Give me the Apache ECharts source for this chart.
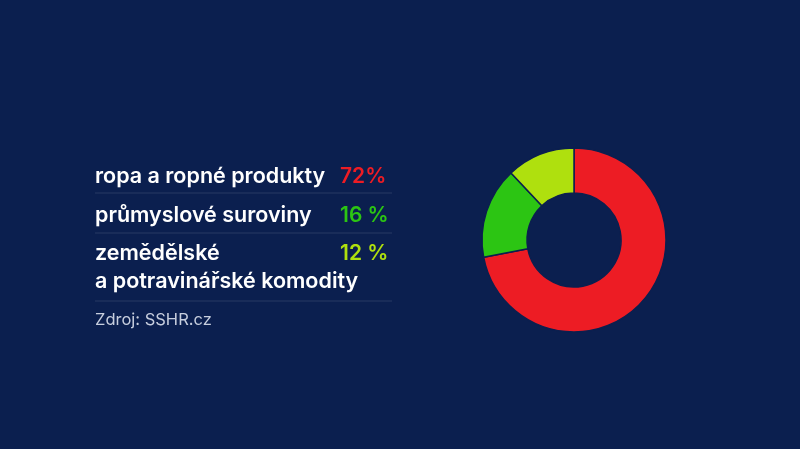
<!DOCTYPE html>
<html>
<head>
<meta charset="utf-8">
<script src="https://cdn.jsdelivr.net/npm/echarts@6/dist/echarts.min.js"></script>
<style>
  html, body { margin: 0; padding: 0; background: #0b1f4f; }
  #chart { width: 800px; height: 449px; }
</style>
</head>
<body>
<div id="chart"></div>
<script>
// data
const categories = ['ropa a ropné produkty', 'průmyslové suroviny', 'zemědělské\na potravinářské komodity']
const values = [72, 16, 12]
const valueLabels = ['72%', '16 %', '12 %']
const colors = ['#ed1c24', '#2cc513', '#afe00e']
const source = 'Zdroj: SSHR.cz'

const chart = echarts.init(document.getElementById('chart'))

// text rows on the left
const rowY = [175, 214, 252]
const lineY = [193, 233, 301]
const graphics = []
categories.forEach((c, i) => {
  graphics.push({
    type: 'text', left: 95, top: rowY[i] - 12,
    style: { text: c, fill: '#ffffff', font: '600 21.5px Inter', lineHeight: 28 }
  })
  graphics.push({
    type: 'text', left: 340, top: rowY[i] - 12,
    style: { text: valueLabels[i], fill: colors[i], font: '600 21px Inter', lineHeight: 28 }
  })
})
lineY.forEach(y => {
  graphics.push({
    type: 'line', shape: { x1: 95, y1: y, x2: 392, y2: y },
    style: { stroke: 'rgba(255,255,255,0.12)', lineWidth: 1 }
  })
})
graphics.push({
  type: 'text', left: 95, top: 312,
  style: { text: source, fill: '#c7cede', font: '400 16.5px Inter' }
})

const option = {
  backgroundColor: '#0b1f4f',
  animation: false,
  graphic: graphics,
  series: [
    {
      type: 'pie',
      center: [574, 240],
      radius: [47, 92],
      startAngle: 90,
      clockwise: true,
      silent: true,
      label: { show: false },
      labelLine: { show: false },
      itemStyle: { borderColor: '#0b1f4f', borderWidth: 1.5 },
      data: categories.map((c, i) => ({ name: c, value: values[i], itemStyle: { color: colors[i] } }))
    }
  ]
}
chart.setOption(option)
</script>
</body>
</html>
